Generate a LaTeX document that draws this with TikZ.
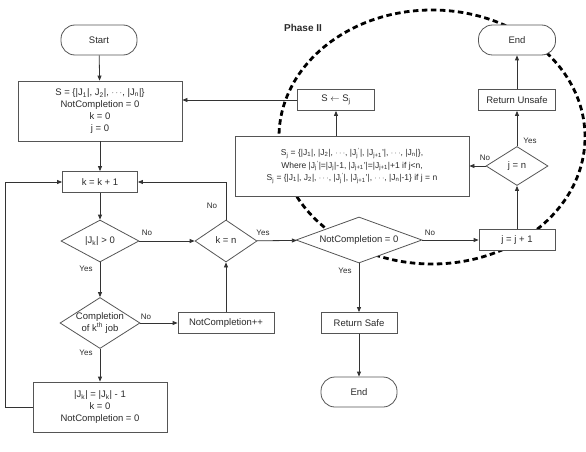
\documentclass[tikz,border=0pt]{standalone}
\usepackage{fontspec}
\setmainfont{Liberation Sans}
\usetikzlibrary{shapes.geometric,arrows.meta}
\definecolor{ln}{HTML}{555555}
\definecolor{ar}{HTML}{333333}
\definecolor{tx}{HTML}{2A2A2A}
\newcommand{\sbs}[1]{\textsubscript{#1}}
\newcommand{\dz}[1]{\makebox[0pt]{\begin{tabular}{@{}c@{}}#1\end{tabular}}}
\begin{document}
\begin{tikzpicture}[x=1pt,y=-1pt,
  base/.style={draw=ln,line width=0.8pt,fill=white,text=tx,font=\fontsize{9.5}{11.7}\selectfont,inner sep=0pt,align=center},
  boxn/.style={base,rectangle},
  term/.style={base,rectangle,rounded corners=14pt},
  dia/.style={base,diamond},
  arr/.style={draw=ar,line width=0.8pt,-{Triangle[length=5pt,width=4pt]}},
  lab/.style={text=tx,font=\fontsize{8}{9}\selectfont,inner sep=0pt}]
\useasboundingbox (0,0) rectangle (586,452);
% Phase II region
\draw[line width=2.8pt,dash pattern=on 5.5pt off 3.5pt] (432,137) ellipse [x radius=153pt, y radius=127pt];
\node[font=\bfseries\fontsize{10}{12}\selectfont,text=tx] (ph) at (303,28) {Phase II};
% nodes
\node[term,minimum width=76pt,minimum height=30pt] (start) at (99,40) {Start};
\node[boxn,minimum width=164pt,minimum height=60pt] (init) at (100,111) {S = \{|J\sbs{1}|, J\sbs{2}|, $\cdots$, |J\sbs{n}|\}\\NotCompletion = 0\\k = 0\\j = 0};
\node[boxn,minimum width=75pt,minimum height=21pt] (kk) at (100,182) {k = k + 1};
\node[dia,minimum width=78pt,minimum height=42pt] (d1) at (100,241) {\dz{|J\sbs{k}| > 0}};
\node[dia,minimum width=62pt,minimum height=42pt] (d2) at (226,241) {\dz{k = n}};
\node[dia,minimum width=80pt,minimum height=51pt] (d3) at (100,323) {\dz{Completion\\of k\textsuperscript{th} job}};
\node[boxn,minimum width=96pt,minimum height=21pt] (ncpp) at (226,323) {NotCompletion++};
\node[boxn,minimum width=134pt,minimum height=50pt] (bot) at (100,407) {|J\sbs{k}| = |J\sbs{k}| - 1\\k = 0\\NotCompletion = 0};
\node[dia,minimum width=126pt,minimum height=46pt] (d4) at (359,240) {\dz{NotCompletion = 0}};
\node[boxn,minimum width=76pt,minimum height=21pt] (jj) at (517,240) {j = j + 1};
\node[boxn,minimum width=76pt,minimum height=21pt] (rsafe) at (359,323) {Return Safe};
\node[term,minimum width=76pt,minimum height=30pt] (end2) at (359,392) {End};
\node[dia,minimum width=62pt,minimum height=39pt] (d5) at (517,166) {\dz{j = n}};
\node[boxn,minimum width=77pt,minimum height=21pt] (runsafe) at (517,100) {Return Unsafe};
\node[term,minimum width=77pt,minimum height=30pt] (end1) at (517,40) {End};
\node[boxn,minimum width=77pt,minimum height=21pt] (sj) at (336,100) {S $\leftarrow$ S\sbs{j}};
\node[boxn,minimum width=234pt,minimum height=60pt,font=\fontsize{8.5}{12.5}\selectfont] (big) at (352,166) {S\sbs{j} = \{|J\sbs{1}|, |J\sbs{2}|, $\cdots$, |J\sbs{j}\textsuperscript{'}|, |J\sbs{j+1}'|, $\cdots$, |J\sbs{n}|\},\\Where |J\sbs{j}\textsuperscript{'}|=|J\sbs{j}|-1, |J\sbs{j+1}'|=|J\sbs{j+1}|+1 if j<n,\\S\sbs{j} = \{|J\sbs{1}|, J\sbs{2}|, $\cdots$, |J\sbs{j}\textsuperscript{'}|, |J\sbs{j+1}'|, $\cdots$, |J\sbs{n}|-1\} if j = n};
\coordinate (lft) at (5,182);
% connectors
\draw[arr] (start) -- (init);
\draw[arr] (init) -- (kk);
\draw[arr] (kk) -- (d1);
\draw[arr] (d1) -- (d3);
\draw[arr] (d3) -- (bot);
\draw[arr] (d1) -- (d2);
\draw[arr] (d3) -- (ncpp);
\draw[arr] (ncpp) -- (d2);
\draw[arr] (d2.north) |- (kk.east);
\draw[arr] (bot.west) -| (lft) -- (kk.west);
\draw[arr] (d2) -- (d4);
\draw[arr] (d4) -- (jj);
\draw[arr] (d4) -- (rsafe);
\draw[arr] (rsafe) -- (end2);
\draw[arr] (jj) -- (d5);
\draw[arr] (d5) -- (runsafe);
\draw[arr] (runsafe) -- (end1);
\draw[arr] (d5) -- (big);
\draw[arr] (big.north -| sj) -- (sj);
\draw[arr] (sj.west) -- (sj.west -| init.east);
% labels
\node[lab] (l1) at (147,233) {No};
\node[lab] (l2) at (86,269) {Yes};
\node[lab] (l3) at (263,233) {Yes};
\node[lab] (l4) at (146,317) {No};
\node[lab] (l5) at (86,353) {Yes};
\node[lab] (l6) at (212,206) {No};
\node[lab] (l7) at (430,233) {No};
\node[lab] (l8) at (345,271) {Yes};
\node[lab] (l9) at (530,141) {Yes};
\node[lab] (l10) at (485,158) {No};
\end{tikzpicture}
\end{document}
